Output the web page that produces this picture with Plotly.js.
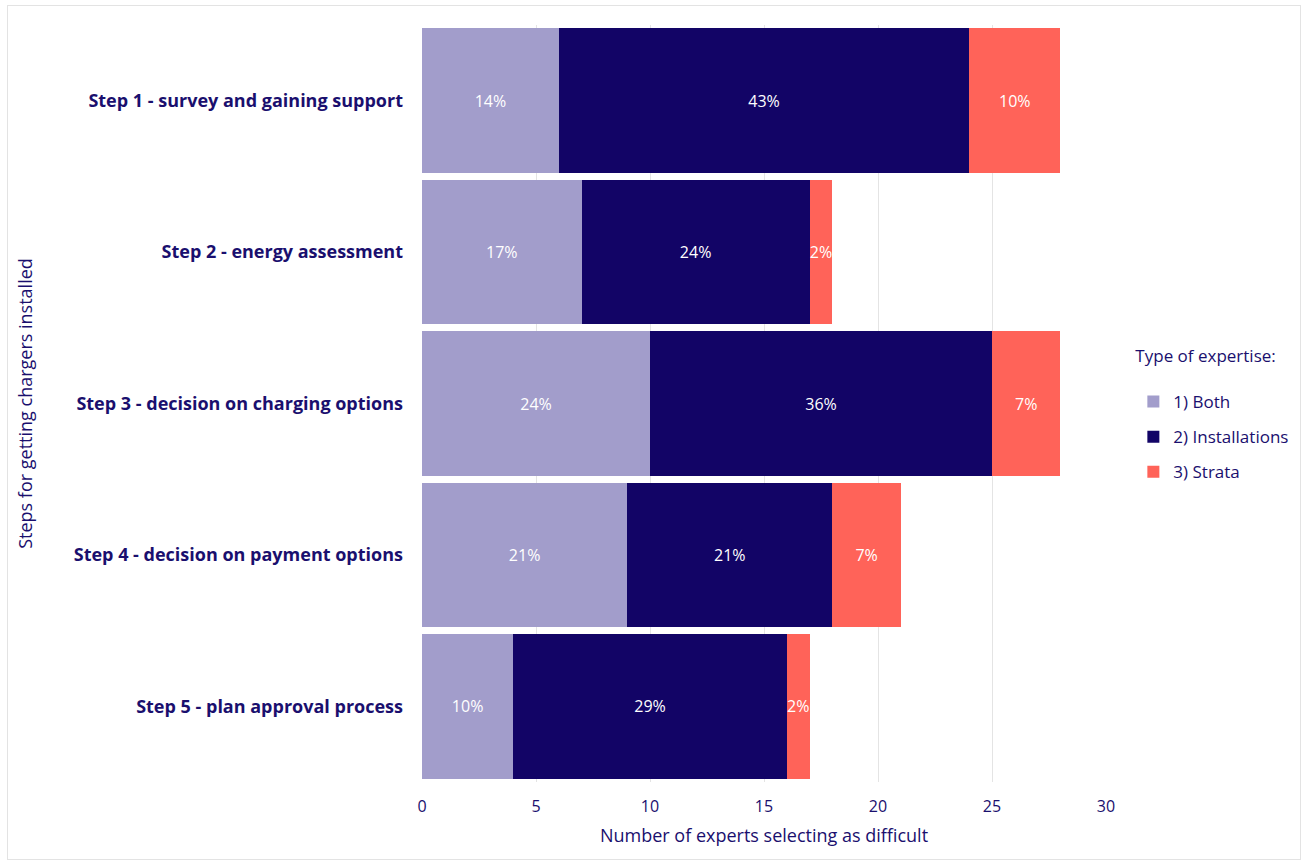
<!DOCTYPE html>
<html>
<head>
<meta charset="utf-8">
<script src="https://cdn.plot.ly/plotly-3.0.1.min.js"></script>
<style>
html,body{margin:0;padding:0;background:#fff;}
#wrap{position:relative;width:1308px;height:863px;}
#frame{position:absolute;left:7px;top:5px;width:1294px;height:855px;border:1px solid #e3e3e3;box-sizing:border-box;pointer-events:none;}
#chart{width:1308px;height:863px;}
</style>
</head>
<body>
<div id="wrap"><div id="chart"></div><div id="frame"></div></div>
<script>
const steps = [
  "Step 1 - survey and gaining support",
  "Step 2 - energy assessment",
  "Step 3 - decision on charging options",
  "Step 4 - decision on payment options",
  "Step 5 - plan approval process"
];
const both = [6, 7, 10, 9, 4];
const installations = [18, 10, 15, 9, 12];
const strata = [4, 1, 3, 3, 1];
const bothPct = ["14%", "17%", "24%", "21%", "10%"];
const installationsPct = ["43%", "24%", "36%", "21%", "29%"];
const strataPct = ["10%", "2%", "7%", "7%", "2%"];
const seriesNames = ["1) Both", "2) Installations", "3) Strata"];
const xTicks = [0, 5, 10, 15, 20, 25, 30];

const navy = "#1a0f6e";
const fontFam = "'Open Sans', 'Noto Sans', sans-serif";

function tr(name, vals, txt, color, grp) {
  return {
    type: "bar", orientation: "h", name: name, legendgroup: grp,
    y: steps, x: vals, text: txt,
    textposition: "inside", insidetextanchor: "middle",
    constraintext: "none", textangle: 0,
    textfont: {color: "#ffffff", size: 16, family: fontFam},
    marker: {color: color, line: {width: 0}},
    hoverinfo: "x+y"
  };
}

const data = [
  tr(seriesNames[0], both, bothPct, "#a29dcb", "g1"),
  tr(seriesNames[1], installations, installationsPct, "#120466", "g2"),
  tr(seriesNames[2], strata, strataPct, "#ff6359", "g3")
];

const layout = {
  width: 1308, height: 863,
  margin: {l: 422, r: 202, t: 25, b: 81},
  barmode: "stack",
  bargap: 0.045,
  paper_bgcolor: "#ffffff",
  plot_bgcolor: "#ffffff",
  font: {family: fontFam, color: navy, size: 16},
  xaxis: {
    range: [0, 30], tickvals: xTicks, ticktext: xTicks.map(String),
    showgrid: true, gridcolor: "#e4e4e4", gridwidth: 1,
    zeroline: false, showline: false,
    ticks: "", ticklen: 0, ticklabelstandoff: 13,
    tickfont: {size: 16, color: navy, family: fontFam},
    title: {text: "Number of experts selecting as difficult", font: {size: 18, color: navy, family: fontFam}, standoff: 13}
  },
  yaxis: {
    autorange: "reversed",
    showgrid: false, zeroline: false, showline: false,
    ticks: "", ticklabelstandoff: 18,
    tickfont: {size: 18, color: navy, family: fontFam, weight: "bold"},
    title: {text: "Steps for getting chargers installed", font: {size: 18, color: navy, family: fontFam}, standoff: 36}
  },
  legend: {
    x: 1.04, y: 0.485, xanchor: "left", yanchor: "middle",
    title: {text: "Type of expertise:<br>", font: {size: 17, color: navy, family: fontFam}},
    font: {size: 17, color: navy, family: fontFam},
    traceorder: "grouped",
    itemwidth: 30,
    tracegroupgap: 10
  },
  showlegend: true
};

Plotly.newPlot("chart", data, layout, {displayModeBar: false, staticPlot: true});
</script>
</body>
</html>
